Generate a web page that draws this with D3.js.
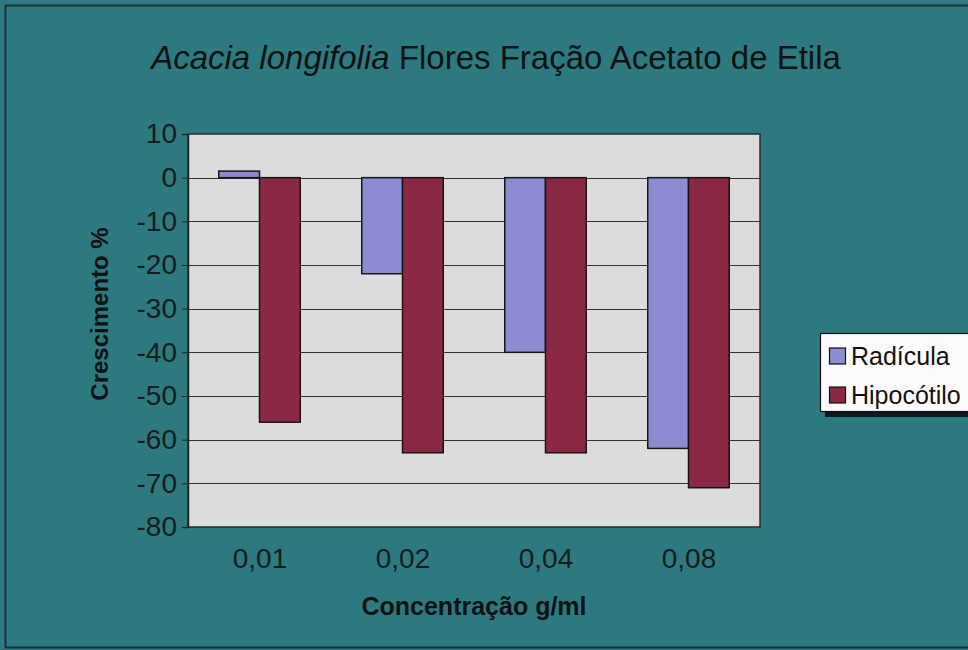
<!DOCTYPE html>
<html>
<head>
<meta charset="utf-8">
<script src="https://cdn.jsdelivr.net/npm/d3@7"></script>
<style>
  html, body { margin: 0; padding: 0; background: #2d7a80; }
  svg { display: block; font-family: "Liberation Sans", Arial, sans-serif; }
</style>
</head>
<body>
<svg id="chart" width="968" height="650"></svg>
<script>
// Concentrations tested and growth relative to control (%)
const categories = ["0,01", "0,02", "0,04", "0,08"];
const seriesNames = ["Radícula", "Hipocótilo"];
const radicula = [1.5, -22, -40, -62];
const hipocotilo = [-56, -63, -63, -71];
const yTicks = [10, 0, -10, -20, -30, -40, -50, -60, -70, -80];

const colors = { "Radícula": "#8d8cd2", "Hipocótilo": "#8b2944" };
const bg = "#2c7a80";

const svg = d3.select("#chart");
const W = 968, H = 650;

// outer background with frame
svg.append("rect").attr("x", 0).attr("y", 0).attr("width", W).attr("height", H).attr("fill", bg);
svg.append("rect").attr("x", 5.5).attr("y", 5.5).attr("width", W + 10).attr("height", H - 8)
  .attr("fill", "none").attr("stroke", "#1a2e33").attr("stroke-width", 2);

const plot = { left: 188, right: 760, top: 134, bottom: 527 };

// category bands: each step holds two bars and a gap
const x0 = d3.scaleBand().domain(categories).range([plot.left, plot.right])
  .paddingInner(0.43).paddingOuter(0.215);
const x1 = d3.scaleBand().domain(seriesNames).range([0, x0.bandwidth()]);
const y = d3.scaleLinear().domain([-80, 10]).range([plot.bottom, plot.top]);

// plot area
svg.append("rect")
  .attr("x", plot.left).attr("y", plot.top)
  .attr("width", plot.right - plot.left).attr("height", plot.bottom - plot.top)
  .attr("fill", "#dcdcdc").attr("stroke", "#2a2a2a").attr("stroke-width", 1.5);

// horizontal gridlines
svg.append("g").selectAll("line").data(yTicks.filter(t => t !== 10 && t !== -80)).join("line")
  .attr("x1", plot.left).attr("x2", plot.right)
  .attr("y1", d => Math.round(y(d)) + 0.5).attr("y2", d => Math.round(y(d)) + 0.5)
  .attr("stroke", "#333").attr("stroke-width", 1.2);

// bars
const rows = categories.map((c, i) => ({ cat: c, values: [
  { name: "Radícula", v: radicula[i] },
  { name: "Hipocótilo", v: hipocotilo[i] }
]}));

const groups = svg.append("g").selectAll("g").data(rows).join("g")
  .attr("transform", d => `translate(${x0(d.cat)},0)`);
groups.selectAll("rect").data(d => d.values).join("rect")
  .attr("x", d => x1(d.name))
  .attr("width", x1.bandwidth())
  .attr("y", d => y(Math.max(0, d.v)))
  .attr("height", d => Math.abs(y(d.v) - y(0)))
  .attr("fill", d => colors[d.name])
  .attr("stroke", "#151515").attr("stroke-width", 1.5);

// y axis
const yAxis = d3.axisLeft(y).tickValues(yTicks).tickSize(6).tickPadding(5).tickFormat(d3.format("d"));
const gy = svg.append("g").attr("transform", `translate(${plot.left},0)`).call(yAxis);
gy.select(".domain").attr("stroke", "#222").attr("stroke-width", 1.5);
gy.selectAll(".tick line").attr("stroke", "#222");
gy.selectAll(".tick text").attr("fill", "#1a1a1a").style("font-size", "28px")
  .text(d => d < 0 ? "-" + Math.abs(d) : d);

// x axis labels, centred under each category
const xPos = d3.scalePoint().domain(categories).range([plot.left, plot.right]).padding(0.5);
const xAxis = d3.axisBottom(xPos).tickSize(0).tickPadding(21);
const gx = svg.append("g").attr("transform", `translate(0,${plot.bottom})`).call(xAxis);
gx.select(".domain").remove();
gx.selectAll(".tick text").attr("fill", "#1a1a1a").style("font-size", "28px");

// title
const title = svg.append("text").attr("x", 496).attr("y", 69).attr("text-anchor", "middle")
  .style("font-size", "33px").attr("fill", "#111");
title.append("tspan").style("font-style", "italic").text("Acacia longifolia");
title.append("tspan").text(" Flores Fração Acetato de Etila");

// axis titles
svg.append("text").attr("transform", "translate(108,314) rotate(-90)").attr("text-anchor", "middle")
  .style("font-size", "24px").style("font-weight", "bold").attr("fill", "#111").text("Crescimento %");
svg.append("text").attr("x", 474).attr("y", 615).attr("text-anchor", "middle")
  .style("font-size", "25px").style("font-weight", "bold").attr("fill", "#111").text("Concentração g/ml");

// legend
const lg = svg.append("g").attr("transform", "translate(820,333)");
lg.append("rect").attr("x", 5).attr("y", 5).attr("width", 170).attr("height", 79).attr("fill", "#0e1a1c");
lg.append("rect").attr("x", 0.5).attr("y", 0.5).attr("width", 170).attr("height", 78)
  .attr("fill", "#fbfbfb").attr("stroke", "#111").attr("stroke-width", 1.2);
seriesNames.forEach((s, i) => {
  const yy = 15 + i * 39;
  lg.append("rect").attr("x", 9.5).attr("y", yy).attr("width", 16).attr("height", 16)
    .attr("fill", colors[s]).attr("stroke", "#111").attr("stroke-width", 1.2);
  lg.append("text").attr("x", 31).attr("y", yy + 17).style("font-size", "25px").attr("fill", "#111").text(s);
});
</script>
</body>
</html>
